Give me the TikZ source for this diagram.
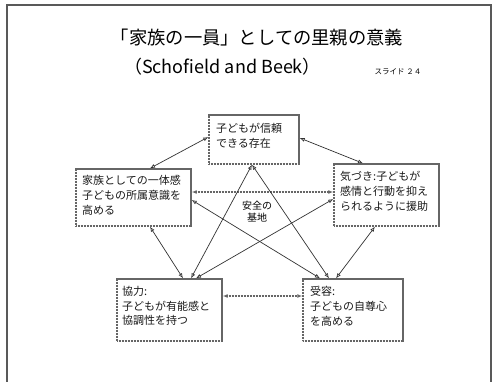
\documentclass[tikz,border=0pt]{standalone}
\usepackage{fontspec}
\setmainfont{Noto Sans CJK JP}
\newfontfamily\cjk{Noto Sans CJK JP}
\usetikzlibrary{arrows.meta,calc}
\tikzset{
  boxnode/.style={draw=black!60, line width=1.4pt, dash pattern=on 1.2pt off 0.3pt, fill=white, inner sep=0pt},
  boxtext/.style={anchor=west, align=left, inner sep=0pt, font=\cjk\fontsize{11}{14.8}\selectfont, text=black!90},
  tipa/.tip={Latex[open,length=5pt,width=4pt]},
  conn/.style={draw=black!80, line width=0.7pt, tipa-tipa},
  hconn/.style={draw=black!60, line width=1.2pt, dash pattern=on 1.2pt off 0.3pt, tipa-tipa}
}
\begin{document}
\begin{tikzpicture}[x=1pt,y=-1pt]
\useasboundingbox (0,0) rectangle (496,381);
\fill[white] (0,0) rectangle (496,381);
\draw[black!65, line width=1.4pt] (7,383) -- (7,5) -- (491,5) -- (491,383);

\node (title) at (257,38) {\cjk\fontsize{18.3}{20}\selectfont 「家族の一員」としての里親の意義};
\node (sub) at (222.5,67) {\cjk\fontsize{18}{20}\selectfont （Schofield and Beek）};
\node (slide) at (398,72) {\cjk\fontsize{7.5}{9}\selectfont スライド ２４};

% boxes
\node[boxnode, minimum width=90pt, minimum height=49pt] (T) at (254,139.5) {};
\node[boxnode, minimum width=115pt, minimum height=57pt] (L) at (133.5,197.5) {};
\node[boxnode, minimum width=105pt, minimum height=62pt] (R) at (386.5,195) {};
\node[boxnode, minimum width=105pt, minimum height=62pt] (BL) at (169.5,310) {};
\node[boxnode, minimum width=100pt, minimum height=62pt] (BR) at (353,310) {};

\node[boxtext] (tT) at (216,135.5) {子どもが信頼\\できる存在};
\node[boxtext] (tL) at (82,195) {家族としての一体感\\子どもの所属意識を\\高める};
\node[boxtext] (tR) at (340,191.5) {気づき:子どもが\\感情と行動を抑え\\られるように援助};
\node[boxtext] (tBL) at (122,306) {協力:\\子どもが有能感と\\協調性を持つ};
\node[boxtext] (tBR) at (310,306.5) {受容:\\子どもの自尊心\\を高める};
\node[align=center, inner sep=0pt, font=\cjk\fontsize{10}{12.5}\selectfont] (safe) at (257,211.5) {安全の\\基地};

% connectors
\draw[conn] ([xshift=16.5pt]L.north) -- ([yshift=2.5pt]T.west);
\draw[conn] ([yshift=1.5pt]T.east) -- ([xshift=-23.5pt]R.north);
\draw[hconn] ([yshift=5.5pt]L.east) -- ([yshift=5.5pt]L.east -| R.west);
\draw[hconn] ([yshift=14pt]BL.east) -- ([yshift=14pt]BL.east -| BR.west);
\draw[conn] ([xshift=16.5pt]L.south) -- ([xshift=13.5pt]BL.north);
\draw[conn] ([xshift=-11.5pt]R.south) -- ([xshift=-17pt]BR.north);
\draw[conn] ([xshift=-2pt]T.south) -- ([xshift=21.5pt]BL.north);
\draw[conn] ([xshift=-2pt]T.south) -- ([xshift=-24pt]BR.north);
\draw[conn] ([yshift=-2.5pt]L.east) -- ([xshift=-33pt]BR.north);
\draw[conn] ([yshift=-4pt]R.west) -- ([xshift=26.5pt]BL.north);
\end{tikzpicture}
\end{document}
